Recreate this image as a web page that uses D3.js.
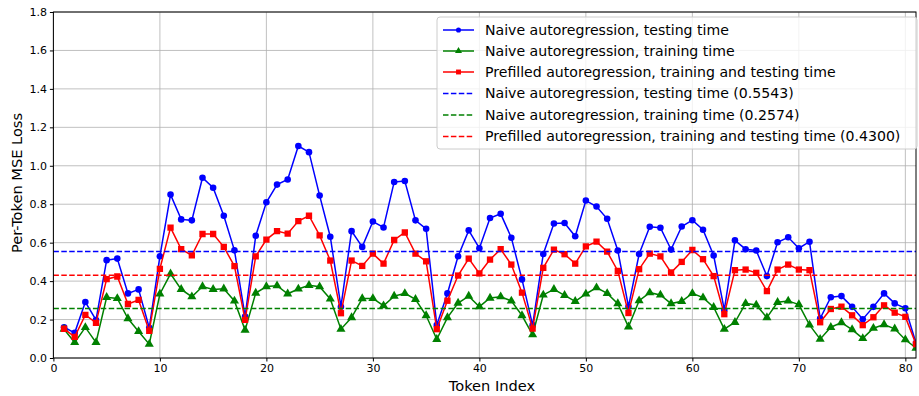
<!DOCTYPE html>
<html><head><meta charset="utf-8">
<script src="https://cdn.jsdelivr.net/npm/d3@7"></script>
<style>body{margin:0;background:#fff;} text{font-family:"DejaVu Sans",sans-serif;}</style>
</head><body>
<svg id="chart" width="919" height="396"></svg>
<script>
const tokens = d3.range(1, 82);
const naiveTest = [0.160,0.131,0.291,0.198,0.509,0.517,0.336,0.357,0.157,0.529,
0.850,0.721,0.716,0.938,0.886,0.740,0.560,0.216,0.636,0.810,
0.902,0.929,1.103,1.071,0.845,0.631,0.267,0.660,0.578,0.710,
0.679,0.916,0.921,0.716,0.672,0.172,0.336,0.529,0.664,0.571,
0.728,0.750,0.626,0.409,0.171,0.541,0.700,0.702,0.633,0.819,
0.788,0.724,0.559,0.267,0.541,0.683,0.678,0.564,0.684,0.717,
0.667,0.533,0.250,0.612,0.566,0.559,0.426,0.602,0.628,0.571,
0.605,0.205,0.316,0.322,0.266,0.202,0.266,0.336,0.284,0.259,0.078];
const naiveTrain = [0.150,0.081,0.159,0.081,0.316,0.310,0.205,0.138,0.072,0.333,
0.438,0.357,0.319,0.372,0.357,0.360,0.297,0.145,0.338,0.372,
0.376,0.334,0.359,0.378,0.371,0.307,0.150,0.210,0.309,0.310,
0.272,0.322,0.336,0.305,0.221,0.097,0.210,0.286,0.322,0.267,
0.312,0.319,0.297,0.221,0.121,0.328,0.357,0.326,0.295,0.333,
0.366,0.336,0.283,0.162,0.298,0.340,0.328,0.283,0.295,0.336,
0.314,0.264,0.150,0.186,0.284,0.276,0.210,0.290,0.297,0.278,
0.172,0.098,0.160,0.184,0.148,0.102,0.155,0.174,0.152,0.095,0.052];
const prefilled = [0.152,0.110,0.224,0.183,0.410,0.424,0.281,0.302,0.141,0.464,
0.678,0.566,0.534,0.645,0.645,0.578,0.478,0.198,0.529,0.616,
0.660,0.647,0.712,0.740,0.638,0.507,0.233,0.507,0.479,0.543,
0.491,0.614,0.653,0.543,0.503,0.150,0.298,0.429,0.517,0.440,
0.512,0.566,0.486,0.340,0.153,0.469,0.564,0.540,0.491,0.581,
0.605,0.553,0.453,0.234,0.462,0.543,0.529,0.445,0.500,0.562,
0.514,0.426,0.228,0.457,0.460,0.443,0.348,0.460,0.486,0.460,
0.457,0.186,0.255,0.267,0.222,0.171,0.212,0.274,0.236,0.214,0.072];
const means = [0.5543, 0.2574, 0.4300];
const xTicks = [0,10,20,30,40,50,60,70,80];
const yTicks = [0,0.2,0.4,0.6,0.8,1.0,1.2,1.4,1.6,1.8];
const legendLabels = ["Naive autoregression, testing time","Naive autoregression, training time","Prefilled autoregression, training and testing time","Naive autoregression, testing time (0.5543)","Naive autoregression, training time (0.2574)","Prefilled autoregression, training and testing time (0.4300)"];
const colors = ["#0000ff","#008000","#ff0000"];

const svg = d3.select("#chart");
const L=53.4, R=916, T=12, B=358;
const x = d3.scaleLinear().domain([0,81]).range([L,R]);
const y = d3.scaleLinear().domain([0,1.8]).range([B,T]);

// grid
svg.append("g").selectAll("line").data(xTicks).join("line")
  .attr("x1",d=>x(d)).attr("x2",d=>x(d)).attr("y1",T).attr("y2",B)
  .attr("stroke","#b0b0b0").attr("stroke-width",0.8);
svg.append("g").selectAll("line").data(yTicks).join("line")
  .attr("x1",L).attr("x2",R).attr("y1",d=>y(d)).attr("y2",d=>y(d))
  .attr("stroke","#b0b0b0").attr("stroke-width",0.8);

const clip = svg.append("clipPath").attr("id","clip").append("rect")
  .attr("x",L).attr("y",T).attr("width",R-L).attr("height",B-T);
const plot = svg.append("g").attr("clip-path","url(#clip)");

const series = [naiveTest, naiveTrain, prefilled];
const line = d3.line().x((d,i)=>x(tokens[i])).y(d=>y(d));
const sym = [d3.symbolCircle, d3.symbolTriangle, d3.symbolSquare];
const symSize = [34, 36, 40];
series.forEach((s,k)=>{
  plot.append("path").datum(s).attr("d",line).attr("fill","none")
    .attr("stroke",colors[k]).attr("stroke-width",1.5);
  plot.append("g").selectAll("path").data(s).join("path")
    .attr("transform",(d,i)=>`translate(${x(tokens[i])},${y(d)})`)
    .attr("d",d3.symbol().type(sym[k]).size(symSize[k]))
    .attr("fill",colors[k]);
});
means.forEach((m,k)=>{
  plot.append("line").attr("x1",L).attr("x2",R).attr("y1",y(m)).attr("y2",y(m))
    .attr("stroke",colors[k]).attr("stroke-width",1.5).attr("stroke-dasharray","5.5,2.4");
});

// axes
const xAxis = d3.axisBottom(x).tickValues(xTicks).tickSize(3.5).tickPadding(3).tickFormat(d3.format("d"));
const gx = svg.append("g").attr("transform",`translate(0,${B})`).call(xAxis);
gx.select(".domain").remove();
gx.selectAll("text").attr("font-size",11).attr("fill","#000").style("font-family","DejaVu Sans");
const yAxis = d3.axisLeft(y).tickValues(yTicks).tickSize(3.5).tickPadding(3).tickFormat(d3.format(".1f"));
const gy = svg.append("g").attr("transform",`translate(${L},0)`).call(yAxis);
gy.select(".domain").remove();
gy.selectAll("text").attr("font-size",11).attr("fill","#000").style("font-family","DejaVu Sans");
svg.append("rect").attr("x",L).attr("y",T).attr("width",R-L).attr("height",B-T)
  .attr("fill","none").attr("stroke","#000").attr("stroke-width",1);

svg.append("text").attr("x",492).attr("y",390.5).attr("text-anchor","middle")
  .attr("font-size",14.6).text("Token Index");
svg.append("text").attr("transform",`translate(22,183) rotate(-90)`)
  .attr("text-anchor","middle").attr("font-size",14.6).text("Per-Token MSE Loss");

// legend
const lg = svg.append("g");
lg.append("rect").attr("x",437).attr("y",17).attr("width",480).attr("height",132)
  .attr("rx",3).attr("fill","#fff").attr("fill-opacity",0.8).attr("stroke","#cccccc").attr("stroke-width",1);
const rowY = [30,51,72,93.5,115,136.5];
legendLabels.forEach((t,k)=>{
  const c = colors[k%3];
  const g = lg.append("g");
  if(k<3){
    g.append("line").attr("x1",443).attr("x2",474).attr("y1",rowY[k]).attr("y2",rowY[k])
      .attr("stroke",c).attr("stroke-width",1.5);
    g.append("path").attr("transform",`translate(458.5,${rowY[k]})`)
      .attr("d",d3.symbol().type(sym[k]).size(symSize[k]*0.6)).attr("fill",c);
  } else {
    g.append("line").attr("x1",443).attr("x2",474).attr("y1",rowY[k]).attr("y2",rowY[k])
      .attr("stroke",c).attr("stroke-width",1.5).attr("stroke-dasharray","5.5,2.4");
  }
  g.append("text").attr("x",485).attr("y",rowY[k]).attr("dy","0.35em")
    .attr("font-size",14.1).text(t);
});
</script>
</body></html>
